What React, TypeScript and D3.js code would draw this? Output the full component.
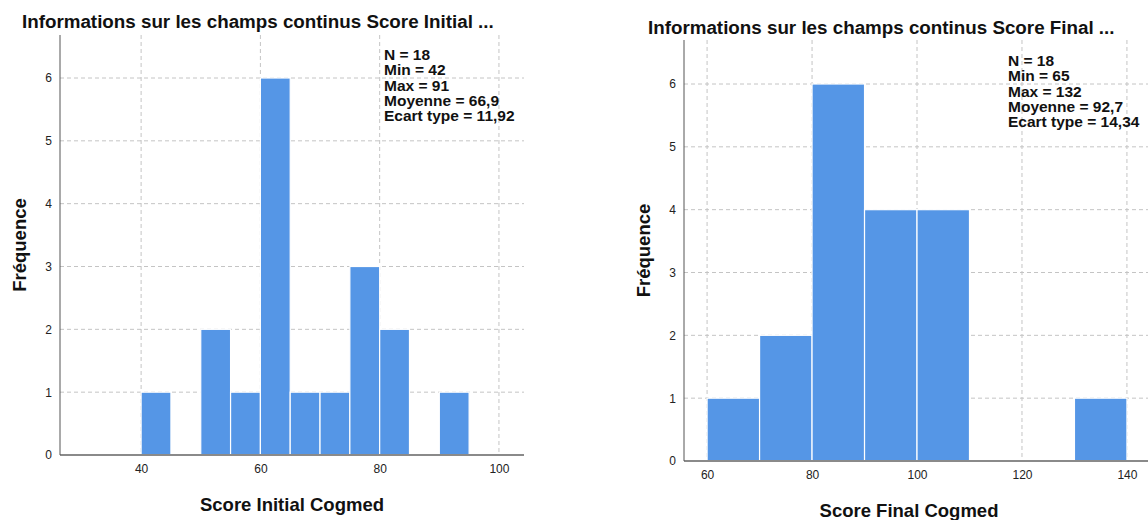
import React, { useEffect, useRef } from 'react'
import * as d3 from 'd3'

// Score Initial Cogmed : bins of width 5
const initialBinStarts = [40, 50, 55, 60, 65, 70, 75, 80, 90]
const initialCounts = [1, 2, 1, 6, 1, 1, 3, 2, 1]
const initialXTicks = [40, 60, 80, 100]
const initialStats = ['N = 18', 'Min = 42', 'Max = 91', 'Moyenne = 66,9', 'Ecart type = 11,92']

// Score Final Cogmed : bins of width 10
const finalBinStarts = [60, 70, 80, 90, 100, 130]
const finalCounts = [1, 2, 6, 4, 4, 1]
const finalXTicks = [60, 80, 100, 120, 140]
const finalStats = ['N = 18', 'Min = 65', 'Max = 132', 'Moyenne = 92,7', 'Ecart type = 14,34']

const yTicks = [0, 1, 2, 3, 4, 5, 6]

const BAR = '#5596e6'
const GRID = '#c4c4c4'
const FONT = '"Liberation Sans", Arial, sans-serif'

type HistProps = {
  title: string
  xLabel: string
  binStarts: number[]
  counts: number[]
  binWidth: number
  xTicks: number[]
  stats: string[]
  xDomain: [number, number]
  xRange: [number, number]
  yBottom: number
  yTop6: number
  plotTop: number
  titleX: number
  titleY: number
  statsX: number
  statsY: number
  yLabelX: number
  xLabelX: number
  xLabelY: number
}

function drawHistogram(g: d3.Selection<SVGGElement, unknown, null, undefined>, p: HistProps) {
  const x = d3.scaleLinear().domain(p.xDomain).range(p.xRange)
  const y = d3.scaleLinear().domain([0, 6]).range([p.yBottom, p.yTop6])
  const [x0, x1] = p.xRange

  // title
  g.append('text')
    .attr('x', p.titleX)
    .attr('y', p.titleY)
    .attr('font-family', FONT)
    .attr('font-weight', 'bold')
    .attr('font-size', 18.8)
    .attr('fill', '#111')
    .text(p.title)

  // horizontal gridlines
  g.append('g')
    .selectAll('line')
    .data(yTicks.filter(d => d > 0))
    .join('line')
    .attr('x1', x0)
    .attr('x2', x1)
    .attr('y1', d => y(d))
    .attr('y2', d => y(d))
    .attr('stroke', GRID)
    .attr('stroke-dasharray', '4,3')

  // vertical gridlines
  g.append('g')
    .selectAll('line')
    .data(p.xTicks)
    .join('line')
    .attr('x1', d => x(d))
    .attr('x2', d => x(d))
    .attr('y1', p.plotTop)
    .attr('y2', p.yBottom)
    .attr('stroke', GRID)
    .attr('stroke-dasharray', '4,3')

  // bars
  g.append('g')
    .selectAll('rect')
    .data(p.binStarts.map((s, i) => ({ s, c: p.counts[i] })))
    .join('rect')
    .attr('x', d => x(d.s))
    .attr('width', d => x(d.s + p.binWidth) - x(d.s))
    .attr('y', d => y(d.c))
    .attr('height', d => y(0) - y(d.c))
    .attr('fill', BAR)
    .attr('stroke', '#fff')
    .attr('stroke-width', 1.2)

  // baseline
  g.append('line')
    .attr('x1', x0)
    .attr('x2', x1)
    .attr('y1', p.yBottom)
    .attr('y2', p.yBottom)
    .attr('stroke', '#8a8a8a')
    .attr('stroke-width', 2)

  // y axis
  const yAxis = g
    .append('g')
    .attr('transform', `translate(${x0},0)`)
    .call(d3.axisLeft(y).tickValues(yTicks).tickSize(0).tickPadding(8).tickFormat(d3.format('d')))
  yAxis.select('.domain').attr('stroke', '#555').attr('d', `M0,${p.plotTop}V${p.yBottom}`)
  yAxis.selectAll('text').attr('font-family', FONT).attr('font-size', 12).attr('fill', '#222')

  // x axis labels
  const xAxis = g
    .append('g')
    .attr('transform', `translate(0,${p.yBottom})`)
    .call(d3.axisBottom(x).tickValues(p.xTicks).tickSize(0).tickPadding(9).tickFormat(d3.format('d')))
  xAxis.select('.domain').remove()
  xAxis.selectAll('text').attr('font-family', FONT).attr('font-size', 12).attr('fill', '#222')

  // stats
  g.append('text')
    .attr('font-family', FONT)
    .attr('font-weight', 'bold')
    .attr('font-size', 15.5)
    .attr('fill', '#111')
    .selectAll('tspan')
    .data(p.stats)
    .join('tspan')
    .attr('x', p.statsX)
    .attr('y', (d, i) => p.statsY + i * 15.3)
    .text(d => d)

  // axis titles
  g.append('text')
    .attr('x', p.xLabelX)
    .attr('y', p.xLabelY)
    .attr('text-anchor', 'middle')
    .attr('font-family', FONT)
    .attr('font-weight', 'bold')
    .attr('font-size', 18.5)
    .attr('fill', '#111')
    .text(p.xLabel)

  g.append('text')
    .attr('transform', `translate(${p.yLabelX},${(p.plotTop + p.yBottom) / 2}) rotate(-90)`)
    .attr('text-anchor', 'middle')
    .attr('font-family', FONT)
    .attr('font-weight', 'bold')
    .attr('font-size', 18.5)
    .attr('fill', '#111')
    .text('Fréquence')
}

export default function App() {
  const ref = useRef<SVGSVGElement>(null)

  useEffect(() => {
    const svg = d3.select(ref.current)
    svg.selectAll('*').remove()

    drawHistogram(svg.append('g'), {
      title: 'Informations sur les champs continus Score Initial ...',
      xLabel: 'Score Initial Cogmed',
      binStarts: initialBinStarts,
      counts: initialCounts,
      binWidth: 5,
      xTicks: initialXTicks,
      stats: initialStats,
      xDomain: [26.4, 104.2],
      xRange: [60, 524],
      yBottom: 455,
      yTop6: 78,
      plotTop: 35,
      titleX: 22,
      titleY: 28,
      statsX: 384,
      statsY: 60,
      yLabelX: 26,
      xLabelX: 292,
      xLabelY: 511
    })

    drawHistogram(svg.append('g'), {
      title: 'Informations sur les champs continus Score Final ...',
      xLabel: 'Score Final Cogmed',
      binStarts: finalBinStarts,
      counts: finalCounts,
      binWidth: 10,
      xTicks: finalXTicks,
      stats: finalStats,
      xDomain: [55.6, 146.3],
      xRange: [684, 1160],
      yBottom: 461,
      yTop6: 84,
      plotTop: 40,
      titleX: 648,
      titleY: 34,
      statsX: 1008,
      statsY: 66,
      yLabelX: 650,
      xLabelX: 909,
      xLabelY: 517
    })
  }, [])

  return (
    <svg
      ref={ref}
      width={1148}
      height={520}
      style={{ position: 'absolute', left: 0, top: 0, background: '#fff' }}
    />
  )
}
